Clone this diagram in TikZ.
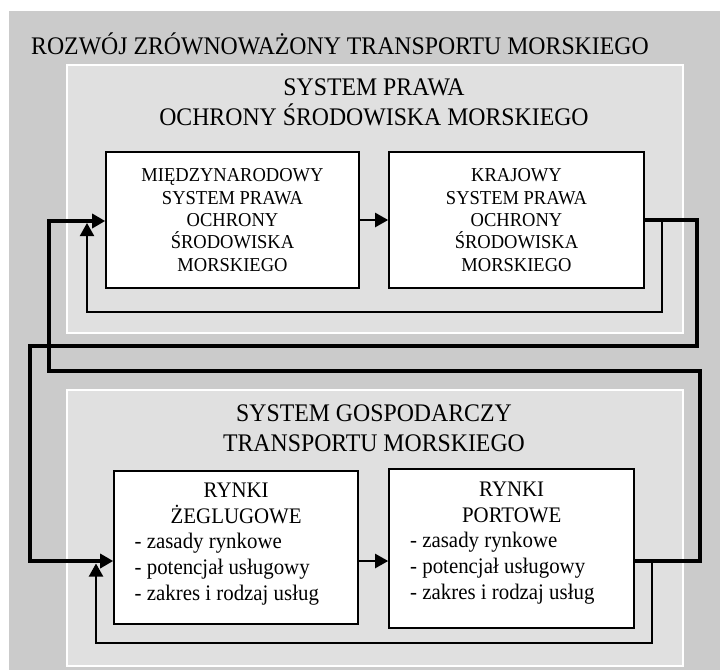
\documentclass[tikz,border=0pt]{standalone}
\usepackage{fontspec}
\setmainfont{Liberation Serif}[FakeStretch=0.94]
\usetikzlibrary{arrows.meta}
\definecolor{outerg}{HTML}{CBCBCB}
\definecolor{innerg}{HTML}{E0E0E0}
\begin{document}
\begin{tikzpicture}[x=1pt,y=-1pt,
  panel/.style={fill=innerg, draw=white, line width=1.5pt, inner sep=0pt, anchor=north west},
  box/.style={draw=black, fill=white, line width=1.6pt, inner sep=0pt},
  boxtxt/.style={font=\fontsize{19.7}{22.3}\selectfont, align=center},
  titletxt/.style={font=\fontsize{25.3}{30}\selectfont, align=center, inner sep=0pt},
  listtxt/.style={font=\fontsize{22.2}{25.6}\selectfont, align=left, inner sep=0pt, anchor=west},
  thickln/.style={line width=3.3pt},
  thinln/.style={line width=2pt},
  midln/.style={line width=2.2pt},
  tip/.style={-{Triangle[length=13pt,width=14pt]}},
  ]
\useasboundingbox (0,0) rectangle (720,670);
\fill[white] (0,0) rectangle (720,670);
\node[fill=outerg, minimum width=711pt, minimum height=659pt, anchor=north west, inner sep=0pt] (outer) at (9,11) {};
\node[titletxt, anchor=west] (title) at (31,44) {ROZWÓJ ZRÓWNOWAŻONY TRANSPORTU MORSKIEGO};
\node[panel, minimum width=616pt, minimum height=268pt] (pan1) at (66,64) {};
\node[panel, minimum width=616pt, minimum height=276pt] (pan2) at (66,389) {};
\node[titletxt] (pt1) at (374,102) {SYSTEM PRAWA\\OCHRONY ŚRODOWISKA MORSKIEGO};
\node[titletxt] (pt2) at (374,428) {SYSTEM GOSPODARCZY\\TRANSPORTU MORSKIEGO};
\node[box, boxtxt, minimum width=253pt, minimum height=136pt] (box1) at (232.5,220) {MIĘDZYNARODOWY\\SYSTEM PRAWA\\OCHRONY\\ŚRODOWISKA\\MORSKIEGO};
\node[box, boxtxt, minimum width=255pt, minimum height=136pt] (box2) at (516.5,220) {KRAJOWY\\SYSTEM PRAWA\\OCHRONY\\ŚRODOWISKA\\MORSKIEGO};
\node[box, minimum width=244pt, minimum height=153pt] (box3) at (236,547.5) {};
\node[box, minimum width=245pt, minimum height=159pt] (box4) at (511.5,548.5) {};
\node[listtxt] (t3) at (134.5,544) {\makebox[203pt][c]{RYNKI}\\\makebox[203pt][c]{ŻEGLUGOWE}\\- zasady rynkowe\\- potencjał usługowy\\- zakres i rodzaj usług};
\node[listtxt] (t4) at (410,543) {\makebox[203pt][c]{RYNKI}\\\makebox[203pt][c]{PORTOWE}\\- zasady rynkowe\\- potencjał usługowy\\- zakres i rodzaj usług};
% route points
\coordinate (a1) at (700,561);
\coordinate (a2) at (700,371);
\coordinate (a3) at (49,371);
\coordinate (a4) at (49,221);
\coordinate (b1) at (697,220);
\coordinate (b2) at (697,346);
\coordinate (b3) at (30,346);
\coordinate (b4) at (30,561);
\coordinate (c0) at (662,220);
\coordinate (c1) at (662,312);
\coordinate (c2) at (87,312);
\coordinate (c3) at (87,223);
\coordinate (d0) at (652,561);
\coordinate (d1) at (652,643);
\coordinate (d2) at (96,643);
\coordinate (d3) at (96,563.5);
% connectors
\draw[midln, tip] (box1.east |- b1) -- (box2.west |- b1);
\draw[midln, tip] (box3.east |- a1) -- (box4.west |- a1);
\draw[thinln, tip] (c0) -- (c1) -- (c2) -- (c3);
\draw[thinln, tip] (d0) -- (d1) -- (d2) -- (d3);
\draw[thickln, tip] (box4.east |- a1) -- (a1) -- (a2) -- (a3) -- (a4) -- (box1.west |- a4);
\draw[thickln, tip] (box2.east |- b1) -- (b1) -- (b2) -- (b3) -- (b4) -- (box3.west |- b4);
\end{tikzpicture}
\end{document}
